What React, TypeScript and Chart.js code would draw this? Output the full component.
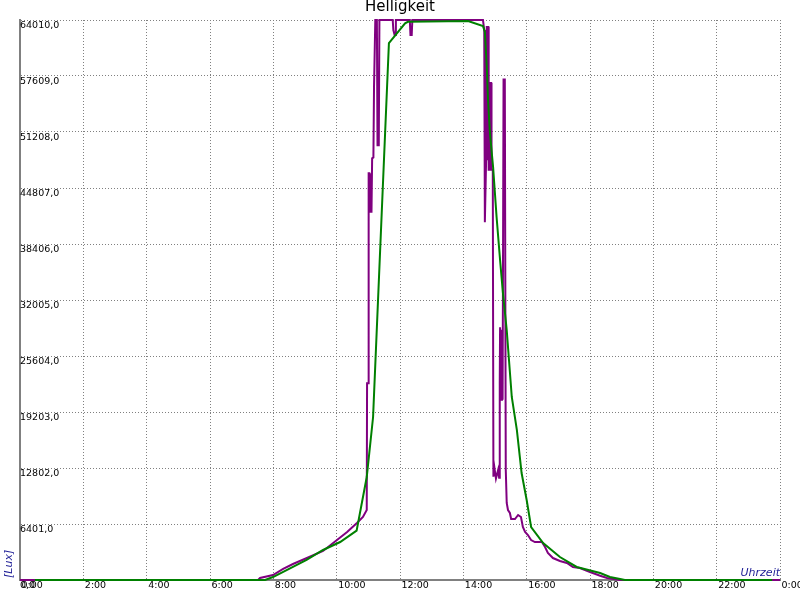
import React, { useEffect, useRef } from 'react';
import { Chart, registerables } from 'chart.js';

Chart.register(...registerables);

const chartTitle = 'Helligkeit';
const yAxisTitle = '[Lux]';
const xAxisTitle = 'Uhrzeit';

const xTickValues = [0, 2, 4, 6, 8, 10, 12, 14, 16, 18, 20, 22, 24];
const xTickLabels = ['0:00', '2:00', '4:00', '6:00', '8:00', '10:00', '12:00', '14:00', '16:00', '18:00', '20:00', '22:00', '0:00'];
const yTickValues = [0, 6401, 12802, 19203, 25604, 32005, 38406, 44807, 51208, 57609, 64010];
const yTickLabels = ['0,0', '6401,0', '12802,0', '19203,0', '25604,0', '32005,0', '38406,0', '44807,0', '51208,0', '57609,0', '64010,0'];

// Purple series: measured brightness (hour of day, lux)
const purpleHours = [
  0, 7.52, 7.58, 7.99, 8.31, 8.62, 9.06, 9.57, 10.01, 10.33,
  10.64, 10.83, 10.95, 10.96, 11.0, 11.01, 11.03, 11.05, 11.1, 11.12,
  11.16, 11.18, 11.22, 11.27, 11.29, 11.33, 11.35, 11.77, 11.79, 11.83,
  11.86, 11.87, 12.31, 12.33, 12.37, 12.39, 14.62, 14.66, 14.68, 14.72,
  14.74, 14.79, 14.8, 14.83, 14.84, 14.88, 14.89, 14.93, 14.95, 14.98,
  15.03, 15.1, 15.13, 15.15, 15.16, 15.19, 15.22, 15.24, 15.27, 15.31,
  15.34, 15.37, 15.41, 15.47, 15.51, 15.63, 15.73, 15.82, 15.88, 15.95,
  16.04, 16.14, 16.26, 16.48, 16.58, 16.67, 16.83, 17.05, 17.27, 17.46,
  17.68, 18.0, 18.32, 18.54, 18.95, 24,
];
const purpleLux = [
  0, 0, 230, 570, 1260, 1830, 2510, 3320, 4570, 5490,
  6510, 7200, 8000, 22500, 22500, 46500, 46500, 42100, 42100, 48200,
  48300, 56400, 64010, 64010, 49700, 49700, 64010, 64010, 62870, 62300,
  62300, 64010, 64010, 62300, 62300, 64010, 64010, 62870, 40900, 48100,
  63200, 63200, 46900, 46900, 56800, 56800, 46900, 46900, 11800, 12900,
  11600, 12600, 11700, 22500, 28900, 20600, 28600, 20600, 57200, 57200,
  12600, 8800, 8000, 7660, 6970, 6970, 7430, 7200, 6060, 5490,
  5140, 4570, 4340, 4340, 3770, 3090, 2510, 2170, 1940, 1490,
  1370, 910, 490, 230, 0, 0,
];

// Green series: smoothed brightness (hour of day, lux)
const greenHours = [
  0.47, 7.74, 7.99, 9.05, 9.57, 10.11, 10.63, 10.95, 11.15, 11.65,
  12.16, 12.25, 14.15, 14.62, 14.68, 14.74, 14.78, 14.84, 14.94, 15.05,
  15.16, 15.25, 15.37, 15.53, 15.69, 15.84, 16.0, 16.14, 16.52, 17.05,
  17.58, 18.32, 18.63, 18.95, 19.1, 23.75,
];
const greenLux = [
  0, 0, 340, 2290, 3430, 4340, 5640, 11770, 18630, 61380,
  63630, 63810, 63900, 63320, 62640, 58670, 54870, 51090, 47210, 41490,
  36580, 32810, 28580, 20920, 17150, 12230, 9140, 6060, 4230, 2630,
  1490, 800, 340, 110, 0, 0,
];

const FONT = '"DejaVu Sans", sans-serif';

const axisTitlePlugin = {
  id: 'axisTitles',
  afterDraw(chart: any) {
    const { ctx, chartArea } = chart;
    ctx.save();
    ctx.fillStyle = '#1e1e96';
    ctx.font = `italic 11px ${FONT}`;
    ctx.textBaseline = 'alphabetic';
    ctx.textAlign = 'right';
    ctx.fillText(xAxisTitle, chartArea.right, chartArea.bottom - 4);
    ctx.translate(chartArea.left - 8.5, chartArea.bottom - 2);
    ctx.rotate(-Math.PI / 2);
    ctx.textAlign = 'left';
    ctx.fillText(yAxisTitle, 0, 0);
    ctx.restore();
  },
};

export default function App() {
  const ref = useRef<HTMLCanvasElement>(null);

  useEffect(() => {
    const canvas = ref.current;
    if (!canvas) return;
    const chart = new Chart(canvas, {
      type: 'line',
      data: {
        datasets: [
          {
            label: 'Mittelwert',
            data: greenHours.map((h, i) => ({ x: h, y: greenLux[i] })),
            borderColor: '#008000',
            backgroundColor: '#008000',
            borderWidth: 2,
            pointRadius: 0,
            tension: 0,
            fill: false,
            clip: 2,
            order: 0,
          },
          {
            label: 'Messwert',
            data: purpleHours.map((h, i) => ({ x: h, y: purpleLux[i] })),
            borderColor: '#800080',
            backgroundColor: '#800080',
            borderWidth: 2,
            pointRadius: 0,
            tension: 0,
            fill: false,
            clip: 2,
            order: 1,
          },
        ],
      },
      options: {
        responsive: false,
        animation: false,
        events: [],
        layout: { padding: { left: 20, right: 20, top: 0, bottom: 8.6 } },
        plugins: {
          legend: { display: false },
          tooltip: { enabled: false },
          title: {
            display: true,
            text: chartTitle,
            color: '#000000',
            font: { family: FONT, size: 15, weight: 'normal', lineHeight: 1 },
            padding: { top: 0, bottom: 5 },
          },
        },
        scales: {
          x: {
            type: 'linear',
            min: 0,
            max: 24,
            afterBuildTicks: (scale: any) => {
              scale.ticks = xTickValues.map((v) => ({ value: v }));
            },
            afterFit: (scale: any) => {
              scale.paddingRight = 0;
              scale.paddingLeft = 0;
            },
            grid: { color: '#808080', lineWidth: 1, drawTicks: false },
            border: { display: true, color: '#808080', width: 2, dash: [1, 2] },
            ticks: {
              autoSkip: false,
              maxRotation: 0,
              minRotation: 0,
              align: 'start',
              labelOffset: 1.5,
              padding: 0,
              color: '#000000',
              font: { family: FONT, size: 9.5, lineHeight: 1.2 },
              callback: (_v: any, i: number) => xTickLabels[i],
            },
          },
          y: {
            type: 'linear',
            min: 0,
            max: 64010,
            afterBuildTicks: (scale: any) => {
              scale.ticks = yTickValues.map((v) => ({ value: v }));
            },
            grid: { color: '#808080', lineWidth: 1, drawTicks: false },
            border: { display: true, color: '#808080', width: 2, dash: [1, 2] },
            ticks: {
              autoSkip: false,
              mirror: true,
              crossAlign: 'near',
              padding: 0,
              labelOffset: 5.5,
              color: '#000000',
              font: { family: FONT, size: 9.5, lineHeight: 1.2 },
              callback: (_v: any, i: number) => yTickLabels[i],
            },
          },
        },
      },
      plugins: [axisTitlePlugin],
    } as any);
    return () => chart.destroy();
  }, []);

  return (
    <div style={{ position: 'fixed', left: 0, top: 0, width: 800, height: 600, background: '#ffffff' }}>
      <canvas ref={ref} width={800} height={600} style={{ display: 'block', width: 800, height: 600 }} />
    </div>
  );
}
